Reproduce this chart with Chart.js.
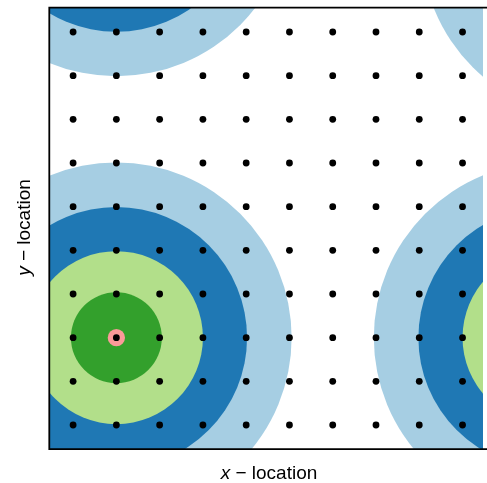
<!DOCTYPE html>
<html>
<head>
<meta charset="utf-8">
<script src="https://cdn.jsdelivr.net/npm/chart.js@4/dist/chart.umd.min.js"></script>
<style>
  html, body { margin: 0; padding: 0; background: #ffffff; }
  canvas { display: block; }
</style>
</head>
<body>
<canvas id="chart" width="487" height="483"></canvas>
<script>
// Sampling grid locations (x and y coordinates of the dots)
const gridX = [1, 2, 3, 4, 5, 6, 7, 8, 9, 10];
const gridY = [1, 2, 3, 4, 5, 6, 7, 8, 9, 10];

// Centres of the concentric zones
const centerX = [2, 12, 2, 13.1];
const centerY = [3, 3, 13, 12.03];

// Zone radii (data units) and their fill colours, outermost first
const zoneRadii = [4.05, 3.02, 2.0, 1.05, 0.2];
const zoneColors = ['#A6CEE3', '#1F78B4', '#B2DF8A', '#33A02C', '#FB9A99'];

// Axis ranges and titles
const xRange = [0.45, 10.473];
const yRange = [0.446, 10.556];
const xTitle = ['x', ' \u2212 location'];
const yTitle = ['y', ' \u2212 location'];

const dots = [];
gridY.forEach(y => gridX.forEach(x => dots.push({ x, y })));

// radius in pixels for a length given in x-data units
function unitPx(chart, r) {
  const sx = chart.scales.x;
  return Math.abs(sx.getPixelForValue(r) - sx.getPixelForValue(0));
}

const datasets = [{
  type: 'scatter',
  label: 'grid',
  data: dots,
  pointRadius: 3.4,
  pointBackgroundColor: '#000000',
  pointBorderWidth: 0,
  showLine: false,
  order: 0,
  clip: 0
}];
zoneRadii.forEach((r, i) => {
  datasets.push({
    type: 'scatter',
    label: 'zone' + i,
    data: centerX.map((x, k) => ({ x, y: centerY[k] })),
    pointBackgroundColor: zoneColors[i],
    pointBorderWidth: 0,
    pointRadius: ctx => unitPx(ctx.chart, r),
    showLine: false,
    order: zoneRadii.length - i,
    clip: 0
  });
});

const framePlugin = {
  id: 'frameAndTitles',
  afterDraw(chart) {
    const { ctx, chartArea: a } = chart;
    ctx.save();
    ctx.strokeStyle = '#000000';
    ctx.lineWidth = 1.8;
    ctx.beginPath();
    ctx.moveTo(chart.width + 2, a.top);
    ctx.lineTo(a.left, a.top);
    ctx.lineTo(a.left, a.bottom);
    ctx.lineTo(chart.width + 2, a.bottom);
    ctx.stroke();

    const italic = 'italic 19px "Liberation Sans", Arial, sans-serif';
    const normal = '19px "Liberation Sans", Arial, sans-serif';
    ctx.fillStyle = '#000000';
    ctx.textBaseline = 'alphabetic';
    ctx.textAlign = 'left';

    function drawTitle(parts, cx, cy) {
      ctx.font = italic;
      const w0 = ctx.measureText(parts[0]).width;
      ctx.font = normal;
      const w1 = ctx.measureText(parts[1]).width;
      const start = cx - (w0 + w1) / 2;
      ctx.font = italic;
      ctx.fillText(parts[0], start, cy);
      ctx.font = normal;
      ctx.fillText(parts[1], start + w0, cy);
    }

    // x-axis title
    drawTitle(xTitle, 269, 478.5);

    // y-axis title (rotated)
    ctx.save();
    ctx.translate(30, 227.5);
    ctx.rotate(-Math.PI / 2);
    drawTitle(yTitle, 0, 0);
    ctx.restore();

    ctx.restore();
  }
};

new Chart(document.getElementById('chart'), {
  type: 'scatter',
  data: { datasets },
  options: {
    responsive: false,
    animation: false,
    devicePixelRatio: 1,
    events: [],
    layout: { padding: { left: 49.3, top: 7.7, bottom: 33.8, right: 0 } },
    plugins: { legend: { display: false }, tooltip: { enabled: false } },
    scales: {
      x: { type: 'linear', display: false, min: xRange[0], max: xRange[1] },
      y: { type: 'linear', display: false, min: yRange[0], max: yRange[1] }
    }
  },
  plugins: [framePlugin]
});
</script>
</body>
</html>
